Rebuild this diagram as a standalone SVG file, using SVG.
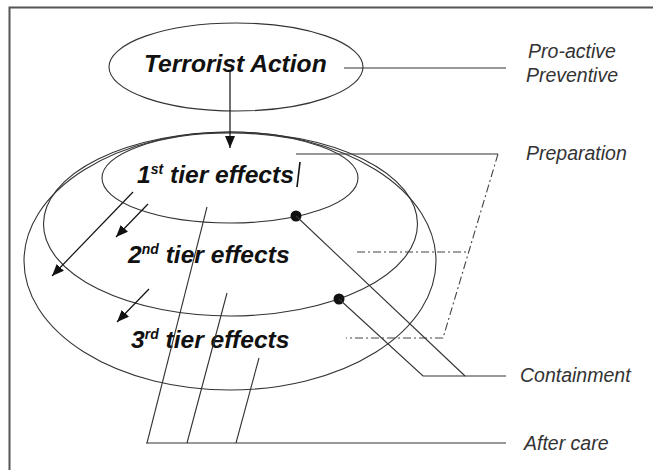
<svg xmlns="http://www.w3.org/2000/svg" width="653" height="470" viewBox="0 0 653 470">
<defs>
<marker id="ah" markerWidth="12" markerHeight="10" refX="12" refY="5" orient="auto" markerUnits="userSpaceOnUse">
<path d="M0,0 L12,5 L0,10 Z" fill="#111"/>
</marker>
<style>
.e{fill:none;stroke:#333;stroke-width:1.1}
.l{fill:none;stroke:#333;stroke-width:1.1}
.dd{fill:none;stroke:#444;stroke-width:1.1;stroke-dasharray:8 3 2 3}
.a{fill:none;stroke:#111;stroke-width:1.2}
.t{font-family:"Liberation Sans",Arial,sans-serif;font-weight:bold;font-style:italic;font-size:24.6px;fill:#111}
.s{font-size:14px}
.lab{font-family:"Liberation Sans",Arial,sans-serif;font-style:italic;font-size:19.5px;fill:#333}
</style>
</defs>
<rect width="653" height="470" fill="#fff"/>
<path d="M9.5,480 V7.5 H660" fill="none" stroke="#555" stroke-width="2"/>
<g id="tier3">
<ellipse class="e" cx="230" cy="261" rx="206" ry="129"/>
<text class="t" x="131" y="348">3<tspan class="s" dy="-9">rd</tspan><tspan dy="9"> tier effects</tspan></text>
</g>
<g id="tier2">
<ellipse class="e" cx="230.5" cy="224" rx="187" ry="92"/>
<text class="t" x="128" y="263">2<tspan class="s" dy="-9">nd</tspan><tspan dy="9"> tier effects</tspan></text>
</g>
<g id="tier1">
<ellipse class="e" cx="230" cy="178" rx="128" ry="45"/>
<text class="t" x="137" y="183">1<tspan class="s" dy="-9">st</tspan><tspan dy="9"> tier effects</tspan></text>
<line x1="300" y1="162" x2="297" y2="187" stroke="#111" stroke-width="1.6"/>
</g>
<g id="terrorist-action">
<ellipse class="e" cx="236" cy="67" rx="127" ry="44"/>
<text class="t" x="144" y="72">Terrorist Action</text>
</g>
<g id="labels">
<text class="lab" x="572" y="58" text-anchor="middle">Pro-active</text>
<text class="lab" x="572" y="82" text-anchor="middle">Preventive</text>
<text class="lab" x="526" y="160">Preparation</text>
<text class="lab" x="520" y="382">Containment</text>
<text class="lab" x="524" y="450">After care</text>
</g>
<g id="connectors">
<line class="a" x1="230" y1="70" x2="230" y2="148" marker-end="url(#ah)"/>
<line class="a" x1="133" y1="192" x2="52" y2="276" marker-end="url(#ah)"/>
<line class="a" x1="148" y1="204" x2="116" y2="237" marker-end="url(#ah)"/>
<line class="a" x1="149" y1="289" x2="117" y2="322" marker-end="url(#ah)"/>
<line class="l" x1="344" y1="68" x2="506" y2="68"/>
<polyline class="l" points="296,154 498,154"/>
<polyline class="dd" points="498,154 443,338 346,338"/>
<line class="dd" x1="357" y1="252" x2="468" y2="252"/>
<circle cx="296" cy="216" r="5.5" fill="#111"/>
<circle cx="339" cy="299" r="5.5" fill="#111"/>
<polyline class="l" points="296,216 465,376"/>
<polyline class="l" points="339,299 423,376 506,376"/>
<line class="l" x1="207" y1="207" x2="147" y2="443"/>
<line class="l" x1="227" y1="293" x2="187" y2="443"/>
<line class="l" x1="259" y1="358" x2="236" y2="443"/>
<line class="l" x1="146" y1="443" x2="506" y2="443"/>
</g>
</svg>
